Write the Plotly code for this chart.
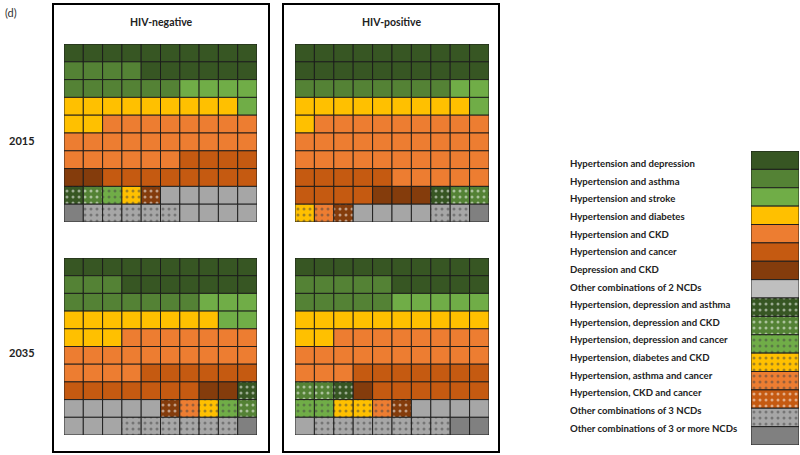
import plotly.graph_objects as go

# ---- data -------------------------------------------------------------
LEGEND_CODES = ["A", "B", "C", "D", "E", "F", "G", "H",
                "a", "b", "c", "d", "e", "f", "X", "Z"]
LEGEND_LABELS = [
    "Hypertension and depression",
    "Hypertension and asthma",
    "Hypertension and stroke",
    "Hypertension and diabetes",
    "Hypertension and CKD",
    "Hypertension and cancer",
    "Depression and CKD",
    "Other combinations of 2 NCDs",
    "Hypertension, depression and asthma",
    "Hypertension, depression and CKD",
    "Hypertension, depression and cancer",
    "Hypertension, diabetes and CKD",
    "Hypertension, asthma and cancer",
    "Hypertension, CKD and cancer",
    "Other combinations of 3 NCDs",
    "Other combinations of 3 or more NCDs",
]

hiv_neg_2015 = ["AAAAAAAAAA", "BBBBAAAAAA", "BBBBBBCCCC", "DDDDDDDDDC", "DDEEEEEEEE",
                "EEEEEEEEEE", "EEEEEEFFFF", "GGFFFFFFFF", "abcdfHHHHH", "ZXXXXXHHHH"]
hiv_pos_2015 = ["AAAAAAAAAA", "AAAAAAAAAA", "BBBBBBBBCC", "DDDDDDDDDC", "DEEEEEEEEE",
                "EEEEEEEEEE", "EEEEEEEEEE", "FFFFFEEEEE", "FFFFGGGabb", "defHHHHXXZ"]
hiv_neg_2035 = ["AAAAAAAAAA", "BBBAAAAAAA", "BBBBBBBCCC", "DDDDDDDDCC", "DDDEEEEEEE",
                "EEEEEEEEEE", "EEEEFFFFFF", "FFFFFFFGGa", "HHHHHfedcb", "HHHXXXXXXZ"]
hiv_pos_2035 = ["AAAAAAAAAA", "BBBBBAAAAA", "BBBBBCCCCC", "DDDDDDDDDD", "DDEEEEEEEE",
                "EEEEEEEEEE", "EEEFFFFFFF", "bbaGFFFFFF", "ccddefHHHH", "HXXXXXXXZZ"]

panel_titles = ["HIV-negative", "HIV-positive"]
year_labels = ["2015", "2035"]

# ---- styles -----------------------------------------------------------
CELL_COLORS = {
    "A": "#375623", "B": "#548235", "C": "#70ad47", "D": "#ffc000",
    "E": "#ed7d31", "F": "#c55a11", "G": "#843c0c", "H": "#a6a6a6",
    "a": "#375623", "b": "#548235", "c": "#70ad47", "d": "#ffc000",
    "e": "#ed7d31", "f": "#843c0c", "X": "#a6a6a6", "Z": "#808080",
}
LEGEND_COLORS = dict(CELL_COLORS, H="#bfbfbf", f="#c55a11")
DOTTED = set("abcdefX")
LINE = "rgba(25,25,25,0.9)"
FONT = "Lato"

W, H = 800, 455


def px_x(p):
    return p / W


def px_y(p):
    return 1 - p / H


fig = go.Figure()

panels = [
    (hiv_neg_2015, "x", "y", [64, 257], [44, 222]),
    (hiv_pos_2015, "x2", "y2", [295, 489], [44, 222]),
    (hiv_neg_2035, "x3", "y3", [64, 257], [258, 435]),
    (hiv_pos_2035, "x4", "y4", [295, 489], [258, 435]),
]

pattern_common = dict(fgcolor="white", size=6, solidity=0.2, fillmode="overlay")

for grid, xa, ya, xd, yd in panels:
    xs, bases, colors, shapes = [], [], [], []
    for r, row in enumerate(grid):
        for c, code in enumerate(row):
            xs.append(c)
            bases.append(r)
            colors.append(CELL_COLORS[code])
            shapes.append("." if code in DOTTED else "")
    fig.add_trace(go.Bar(
        x=xs, y=[1] * len(xs), base=bases, width=1, xaxis=xa, yaxis=ya,
        marker=dict(color=colors, line=dict(color=LINE, width=1),
                    pattern=dict(shape=shapes, **pattern_common)),
        showlegend=False, hoverinfo="skip",
    ))
    n = xa[1:] or ""
    fig.update_layout({
        f"xaxis{n}": dict(domain=[px_x(xd[0]), px_x(xd[1])], range=[-0.5, 9.5],
                          visible=False, fixedrange=True, anchor=ya),
        f"yaxis{n}": dict(domain=[px_y(yd[1]), px_y(yd[0])], range=[10, 0],
                          visible=False, fixedrange=True, anchor=xa),
    })

# legend swatches
fig.add_trace(go.Bar(
    x=[0] * len(LEGEND_CODES), y=[1] * len(LEGEND_CODES),
    base=list(range(len(LEGEND_CODES))), width=1, xaxis="x5", yaxis="y5",
    marker=dict(color=[LEGEND_COLORS[c] for c in LEGEND_CODES],
                line=dict(color=LINE, width=1),
                pattern=dict(shape=["." if c in DOTTED else "" for c in LEGEND_CODES],
                             **pattern_common)),
    showlegend=False, hoverinfo="skip",
))
fig.update_layout(
    xaxis5=dict(domain=[px_x(751), px_x(799)], range=[-0.5, 0.5], visible=False,
                fixedrange=True, anchor="y5"),
    yaxis5=dict(domain=[px_y(445), px_y(151)], range=[16, 0], visible=False,
                fixedrange=True, anchor="x5"),
)

# legend labels
fig.add_trace(go.Scatter(
    x=[0] * len(LEGEND_LABELS), y=list(range(len(LEGEND_LABELS))),
    text=[f"<b>{t}</b>" for t in LEGEND_LABELS], mode="text",
    textposition="middle right",
    textfont=dict(family=FONT, size=9.6, color="#222"),
    xaxis="x6", yaxis="y6", showlegend=False, hoverinfo="skip",
))
fig.update_layout(
    xaxis6=dict(domain=[px_x(570), px_x(745)], range=[0, 1], visible=False,
                fixedrange=True, anchor="y6"),
    yaxis6=dict(domain=[px_y(438), px_y(156)], range=[15.5, -0.5], visible=False,
                fixedrange=True, anchor="x6"),
)

# panel boxes
for x0, x1 in [(53, 269), (283, 499)]:
    fig.add_shape(type="rect", xref="paper", yref="paper",
                  x0=px_x(x0), x1=px_x(x1), y0=px_y(452), y1=px_y(4),
                  line=dict(color="black", width=2), fillcolor="rgba(0,0,0,0)")

annotations = []
for title, cx in zip(panel_titles, [161, 391]):
    annotations.append(dict(x=px_x(cx), y=px_y(22), xref="paper", yref="paper",
                            xanchor="center", yanchor="middle",
                            text=f"<b>{title}</b>", showarrow=False,
                            font=dict(family=FONT, size=10.5, color="#222")))
for lab, cy in zip(year_labels, [140, 352]):
    annotations.append(dict(x=px_x(22), y=px_y(cy), xref="paper", yref="paper",
                            xanchor="center", yanchor="middle",
                            text=f"<b>{lab}</b>", showarrow=False,
                            font=dict(family=FONT, size=11, color="#222")))
annotations.append(dict(x=px_x(3), y=px_y(12), xref="paper", yref="paper",
                        xanchor="left", yanchor="middle", text="(d)", showarrow=False,
                        font=dict(family=FONT, size=11, color="#333")))

fig.update_layout(
    width=W, height=H, margin=dict(l=0, r=0, t=0, b=0),
    paper_bgcolor="white", plot_bgcolor="white",
    barmode="overlay", annotations=annotations,
)

fig.write_html("out.html", config={"displayModeBar": False},
               post_script="document.body.style.margin='0';")
